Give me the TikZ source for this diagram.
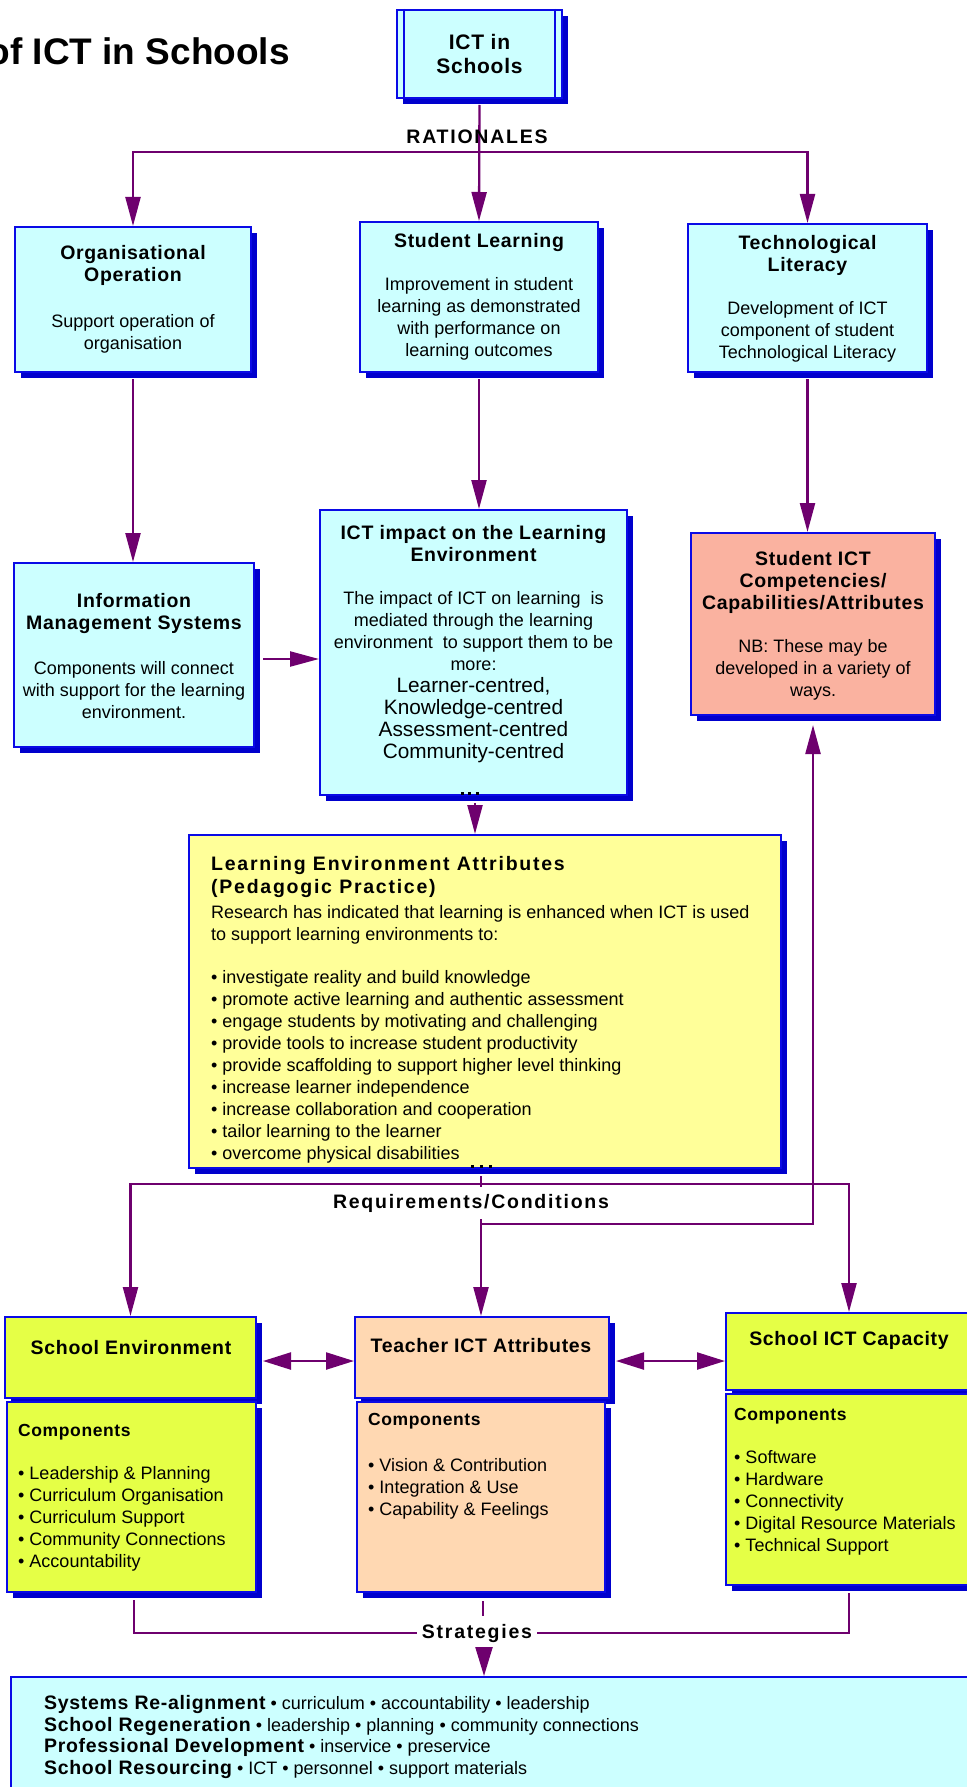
\documentclass[tikz,border=0pt]{standalone}
\usepackage{fontspec}
\setmainfont{Liberation Sans}
\newfontfamily\boxheadfont[LetterSpace=3.5]{Liberation Sans}
\newfontfamily\linkheadfont[LetterSpace=9]{Liberation Sans}
\usetikzlibrary{arrows.meta, positioning, calc, shadows}

\definecolor{boxblue}{RGB}{10, 10, 230}
\definecolor{shadowblue}{RGB}{0, 0, 205}
\definecolor{cyanfill}{RGB}{204, 255, 255}
\definecolor{leafill}{RGB}{255, 255, 153}
\definecolor{limefill}{RGB}{229, 255, 70}
\definecolor{peachfill}{RGB}{255, 216, 178}
\definecolor{salmonfill}{RGB}{250, 178, 160}
\definecolor{linkpurple}{RGB}{110, 0, 110}

\newcommand{\hd}{\boxheadfont\bfseries\fontsize{19.5}{22}\selectfont}
\newcommand{\lk}{\linkheadfont\bfseries\fontsize{19.5}{22}\selectfont}
\newcommand{\compfont}{\boxheadfont\bfseries\fontsize{17.5}{22}\selectfont}
\newcommand{\bodyfont}{\fontsize{18}{22}\selectfont}
\newcommand{\bigfont}{\fontsize{20.8}{22}\selectfont}

\tikzset{
    box/.style={
        rectangle, draw=boxblue, fill=#1, line width=2pt,
        drop shadow={shadow xshift=6pt, shadow yshift=-6pt, fill=shadowblue, opacity=1}
    },
    txt/.style={inner sep=0pt, align=center, font=\bodyfont},
    ltxt/.style={inner sep=0pt, align=left, font=\bodyfont, anchor=north west},
    link/.style={draw=linkpurple, line width=2.3pt, -{Triangle[length=29pt, width=15pt]}},
    plainlink/.style={draw=linkpurple, line width=2.3pt},
    dlink/.style={draw=linkpurple, line width=2.3pt,
        {Triangle[length=28pt, width=17pt]}-{Triangle[length=28pt, width=17pt]}},
    tiplink/.style={draw=linkpurple, line width=2.3pt, -{Triangle[length=29pt, width=17pt]}},
    linklabel/.style={font=\lk, inner sep=5pt}
}

\begin{document}
\begin{tikzpicture}[x=1pt, y=-1pt]
    \useasboundingbox (0,0) rectangle (966,1787);

    % Title and root
    \node[anchor=base east, inner sep=0pt, font=\bfseries\fontsize{37}{40}\selectfont] (title) at (290,65) {of ICT in Schools};
    \node[box=cyanfill, minimum width=165pt, minimum height=88pt, align=center,
          font=\boxheadfont\bfseries\fontsize{21}{24}\selectfont] (ict) at (479.5,54) {ICT in\\Schools};
    \draw[boxblue, line width=2pt] ([xshift=8pt]ict.north west) -- ([xshift=8pt]ict.south west);
    \draw[boxblue, line width=2pt] ([xshift=-8pt]ict.north east) -- ([xshift=-8pt]ict.south east);

    % Row 1: Rationales
    \node[box=cyanfill, minimum width=236pt, minimum height=145pt] (org) at (133,299.5) {};
    \node[txt] (orgtext) at (133,299) {{\hd Organisational}\\{\hd Operation}\\[24pt]Support operation of\\organisation};
    \node[box=cyanfill, minimum width=238pt, minimum height=150pt] (stud) at (479,297) {};
    \node[txt] (studtext) at (479,296.5) {{\hd Student Learning}\\[21pt]Improvement in student\\learning as demonstrated\\with performance on\\learning outcomes};
    \node[box=cyanfill, minimum width=239pt, minimum height=148pt] (tech) at (807.5,298) {};
    \node[txt] (techtext) at (807.5,299) {{\hd Technological}\\{\hd Literacy}\\[21pt]Development of ICT\\component of student\\Technological Literacy};

    % Row 2
    \node[box=cyanfill, minimum width=240pt, minimum height=184pt] (info) at (134,655) {};
    \node[txt] (infotext) at (134,656.5) {{\hd Information}\\{\hd Management Systems}\\[23pt]Components will connect\\with support for the learning\\environment.};
    \node[box=cyanfill, minimum width=307pt, minimum height=285pt] (impact) at (473.5,652.5) {};
    \node[txt] (impacttext) at (473.5,644) {{\hd ICT impact on the Learning}\\{\hd Environment}\\[21pt]The impact of ICT on learning\ \ is\\mediated through the learning\\environment\ \ to support them to be\\more:\\{\bigfont Learner-centred,}\\{\bigfont Knowledge-centred}\\{\bigfont Assessment-centred}\\{\bigfont Community-centred}};
    \node[box=salmonfill, minimum width=244pt, minimum height=182pt] (sict) at (813,624) {};
    \node[txt] (sicttext) at (813,625.5) {{\hd Student ICT}\\{\hd Competencies/}\\{\hd Capabilities/Attributes}\\[21pt]NB: These may be\\developed in a variety of\\ways.};

    % Pedagogic practice
    \node[box=leafill, minimum width=592pt, minimum height=333pt] (lea) at (485,1001.5) {};
    \node[ltxt] (leatext) at (211,856) {{\lk Learning Environment Attributes}\\[1pt]{\lk (Pedagogic Practice)}\\[3pt]Research has indicated that learning is enhanced when ICT is used\\to support learning environments to:\\[21pt]%
        • investigate reality and build knowledge\\• promote active learning and authentic assessment\\• engage students by motivating and challenging\\• provide tools to increase student productivity\\• provide scaffolding to support higher level thinking\\• increase learner independence\\• increase collaboration and cooperation\\• tailor learning to the learner\\• overcome physical disabilities};

    % Connection dots
    \foreach \dx in {462,469,477} \fill (\dx-1.5,791.5) rectangle ++(3,3);
    \foreach \dx in {472,481,490} \fill (\dx-1.5,1164.5) rectangle ++(3,3);

    % Row 3: Requirements/Conditions
    \node[box=limefill, minimum width=251pt, minimum height=81pt] (senv) at (130.5,1357.5) {};
    \node[txt] (senvhead) at (131,1348) {\hd School Environment};
    \node[box=limefill, minimum width=249pt, minimum height=190pt] (senvc) at (131.5,1497) {};
    \node[ltxt] (senvlist) at (18,1424) {{\compfont Components}\\[21pt]• Leadership \& Planning\\• Curriculum Organisation\\• Curriculum Support\\• Community Connections\\• Accountability};

    \node[box=peachfill, minimum width=254pt, minimum height=81pt] (teach) at (482,1357.5) {};
    \node[txt] (teachhead) at (481,1346) {\hd Teacher ICT Attributes};
    \node[box=peachfill, minimum width=248pt, minimum height=190pt] (teachc) at (481,1497) {};
    \node[ltxt] (teachlist) at (368,1413) {{\compfont Components}\\[24pt]• Vision \& Contribution\\• Integration \& Use\\• Capability \& Feelings};

    \node[box=limefill, minimum width=246pt, minimum height=77pt] (cap) at (849,1351.5) {};
    \node[txt] (caphead) at (849,1340) {\hd School ICT Capacity};
    \node[box=limefill, minimum width=246pt, minimum height=191pt] (capc) at (849,1489.5) {};
    \node[ltxt] (caplist) at (734,1408) {{\compfont Components}\\[21pt]• Software\\• Hardware\\• Connectivity\\• Digital Resource Materials\\• Technical Support};

    % Strategies
    \node[box=cyanfill, minimum width=974pt, minimum height=123pt] (strat) at (498,1738.5) {};
    \node[ltxt, font=\fontsize{18}{21.7}\selectfont] (strattext) at (44,1695) {{\hd Systems Re-alignment} • curriculum • accountability • leadership\\{\hd School Regeneration} • leadership • planning • community connections\\{\hd Professional Development} • inservice • preservice\\{\hd School Resourcing} • ICT • personnel • support materials};

    % Arrows
    \coordinate (ratjoin) at (479,152);
    \draw[link, shorten <=6pt] (ict.south) -- (stud.north);
    \draw[link] (ratjoin) -| (org.north);
    \draw[link] (ratjoin) -| (tech.north);
    \draw[link, shorten <=6pt] (org.south) -- (org.south |- info.north);
    \draw[link, shorten <=6pt] (stud.south) -- (stud.south |- impact.north);
    \draw[link, shorten <=6pt] (tech.south) -- (tech.south |- sict.north);
    \draw[link, shorten <=8pt] ([yshift=-4pt]info.east) -- ([yshift=-4pt]info.east -| impact.west);
    \draw[link, shorten <=7pt] ([xshift=1.5pt]impact.south) -- ([xshift=1.5pt]impact.south |- lea.north);

    \coordinate (reqjoin) at (481,1184);
    \coordinate (sictjoin) at (481,1224);
    \draw[plainlink, shorten <=7pt] (reqjoin |- lea.south) -- (reqjoin);
    \draw[link] (reqjoin) -| (senv.north);
    \draw[link] (reqjoin) -| (cap.north);
    \draw[link] (reqjoin) -- (reqjoin |- teach.north);
    \draw[link, shorten >=9pt] (sictjoin) -| (sict.south);

    \draw[dlink, shorten <=6pt] ([yshift=-3.5pt]senv.east) -- ([yshift=-3.5pt]senv.east -| teach.west);
    \draw[dlink, shorten <=6pt] ([yshift=-3.5pt]teach.east) -- ([yshift=-3.5pt]teach.east -| cap.west);

    % Labels
    \node[linklabel, inner sep=0pt] (ratlabel) at (477,137) {RATIONALES};
    \node[linklabel, fill=white, inner sep=4pt, minimum height=32pt] (reqlabel) at (471,1203) {Requirements/Conditions};
    \node[linklabel] (stratlabel) at (477,1633) {Strategies};

    % Strategies links
    \draw[plainlink, shorten <=7pt] ([xshift=2.5pt]senvc.south) |- (stratlabel.west);
    \draw[plainlink, shorten <=7pt] (capc.south) |- (stratlabel.east);
    \draw[plainlink, shorten <=8pt, shorten >=3pt] ([xshift=2pt]teachc.south) -- ([xshift=2pt]teachc.south |- stratlabel.north);
    \draw[tiplink] ([xshift=7pt]stratlabel.south) -- ([xshift=7pt]stratlabel.south |- strat.north);

\end{tikzpicture}
\end{document}
